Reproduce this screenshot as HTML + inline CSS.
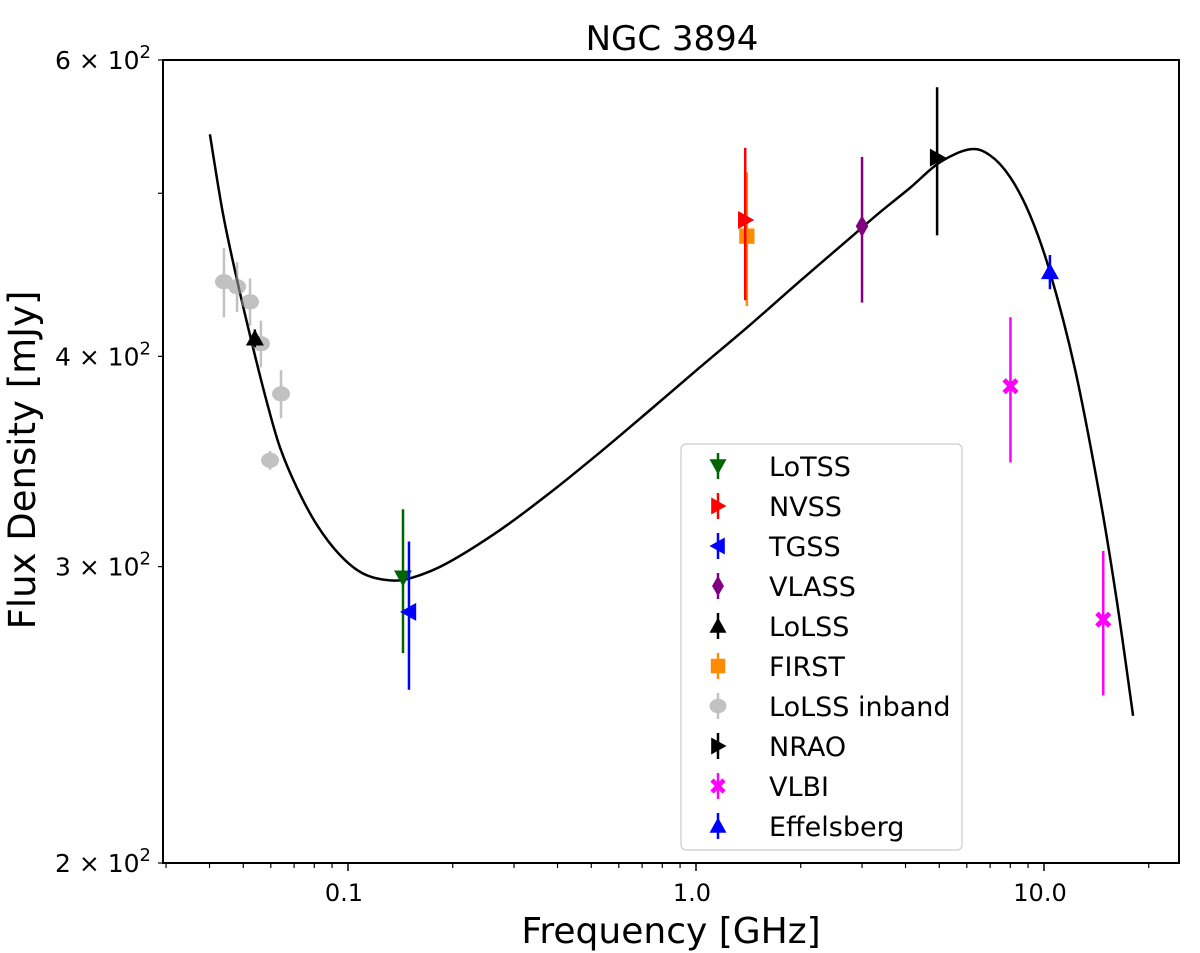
<!DOCTYPE html>
<html><head><meta charset="utf-8"><style>
body{margin:0;background:#fff}
svg{display:block;font-family:"DejaVu Sans","Liberation Sans",sans-serif}
</style></head><body>
<svg id="c" width="1200" height="953" viewBox="0 0 1200 953"></svg>
<script>
const curveFreq=[0.0401,0.0437,0.0480,0.0530,0.0585,0.0638,0.0714,0.0815,0.0948,0.1104,0.1321,0.1537,0.1925,0.2734,0.3806,0.530,0.738,1.027,1.43,1.990,2.770,3.379,4.121,5.02,6.13,7.00,7.99,9.12,10.40,12.28,14.49,16.21,18.03];
const curveFlux=[542,486.5,444,407,375.5,353,334,317.5,304.8,297.2,294.4,295.6,301.4,315.4,331.9,350.8,371.7,394.1,417.6,443.4,470.3,487.2,503.7,521.6,531,526.6,511.2,485.2,449,393,329.5,285.8,244.6];
const inbandFreq=[0.0440,0.0480,0.0523,0.0562,0.0642,0.0597];
const inbandFlux=[443,440,431,407,380,347];
const inbandErr=[21,15,14,13,12.5,4.5];
const series=[
 {name:'LoTSS',color:'#006400',marker:'tri-down',f:[0.1439],v:[295.5],e:[29]},
 {name:'NVSS',color:'#ff0000',marker:'tri-right',f:[1.385],v:[482],e:[50]},
 {name:'TGSS',color:'#0000ff',marker:'tri-left',f:[0.1497],v:[282],e:[28.5]},
 {name:'VLASS',color:'#800080',marker:'diamond',f:[3.00],v:[478],e:[47.5]},
 {name:'LoLSS',color:'#000000',marker:'tri-up',f:[0.0540],v:[410],e:[5]},
 {name:'FIRST',color:'#ff8c00',marker:'square',f:[1.40],v:[471.5],e:[43]},
 {name:'LoLSS inband',color:'#999999',marker:'circle',f:inbandFreq,v:inbandFlux,e:inbandErr,alpha:0.6},
 {name:'NRAO',color:'#000000',marker:'tri-right',f:[4.93],v:[525],e:[53]},
 {name:'VLBI',color:'#ff00ff',marker:'x',f:[8.01,14.8],v:[384,279],e:[38,27.5]},
 {name:'Effelsberg',color:'#0000ff',marker:'tri-up',f:[10.4],v:[449],e:[10.5]}
];
const drawOrder=[6,0,2,3,4,5,1,7,8,9];
const xMajor=[0.1,1,10], xMajorLabels=['0.1','1.0','10.0'];
const xMinor=[0.03,0.04,0.05,0.06,0.07,0.08,0.09,0.2,0.3,0.4,0.5,0.6,0.7,0.8,0.9,2,3,4,5,6,7,8,9,20];
const yTicks=[200,300,400,500,600], yTickMant=['2','3','4','','6'];

const L=163,R=1179,T=60,B=863;
const X=f=>348+348*Math.log10(f/0.1);
const Y=v=>B-Math.log10(v/200)/Math.log10(3)*(B-T);
const NS='http://www.w3.org/2000/svg';
const svg=document.getElementById('c');
function el(tag,attrs,parent){const e=document.createElementNS(NS,tag);for(const k in attrs)e.setAttribute(k,attrs[k]);(parent||svg).appendChild(e);return e;}

let t=el('text',{x:672,y:50,'font-size':34,'text-anchor':'middle'});t.textContent='NGC 3894';


t=el('text',{x:671,y:943,'font-size':36,'text-anchor':'middle'});t.textContent='Frequency [GHz]';


t=el('text',{x:0,y:0,'font-size':37,'text-anchor':'middle',transform:'translate(35,460) rotate(-90)'});t.textContent='Flux Density [mJy]';



xMajor.forEach((f,i)=>{const x=X(f);el('line',{x1:x,x2:x,y1:B,y2:B+8,stroke:'#000','stroke-width':1.5});
 const tt=el('text',{x:x-4,y:B+38,'font-size':24,'text-anchor':'middle'});tt.textContent=xMajorLabels[i];
 
 });
xMinor.forEach(f=>{const x=X(f);el('line',{x1:x,x2:x,y1:B,y2:B+5,stroke:'#000','stroke-width':1.2});});
yTicks.forEach((v,i)=>{const y=Y(v);el('line',{x1:L-5,x2:L,y1:y,y2:y,stroke:'#000','stroke-width':1.2});
 if(yTickMant[i]){const tt=el('text',{x:L-12,y:y+9,'font-size':25,'text-anchor':'end'});
 tt.innerHTML=yTickMant[i]+' × 10<tspan dy="-11" font-size="18">2</tspan>';
 
 }});

const cp=curveFreq.map((f,i)=>[X(f),Y(curveFlux[i])]);
let d='M'+cp[0][0]+','+cp[0][1];
for(let i=0;i<cp.length-1;i++){const p0=cp[Math.max(0,i-1)],p1=cp[i],p2=cp[i+1],p3=cp[Math.min(cp.length-1,i+2)];
 d+=' C'+(p1[0]+(p2[0]-p0[0])/6)+','+(p1[1]+(p2[1]-p0[1])/6)+' '+(p2[0]-(p3[0]-p1[0])/6)+','+(p2[1]-(p3[1]-p1[1])/6)+' '+p2[0]+','+p2[1];}
const cv=el('path',{d:d,fill:'none',stroke:'#000','stroke-width':2.5});



function marker(g,type,x,y,c,s){
 s=s||9;
 if(type==='circle')el('ellipse',{cx:x,cy:y,rx:s,ry:s*0.85,fill:c},g);
 else if(type==='square')el('rect',{x:x-s*0.85,y:y-s*0.85,width:s*1.7,height:s*1.7,fill:c},g);
 else if(type==='diamond')el('polygon',{points:`${x},${y-s*1.2} ${x+s*0.7},${y} ${x},${y+s*1.2} ${x-s*0.7},${y}`,fill:c},g);
 else if(type==='x'){const a=s*0.9,w=s*0.38;el('polygon',{points:`${x-a},${y-a+w} ${x-a+w},${y-a} ${x},${y-w} ${x+a-w},${y-a} ${x+a},${y-a+w} ${x+w},${y} ${x+a},${y+a-w} ${x+a-w},${y+a} ${x},${y+w} ${x-a+w},${y+a} ${x-a},${y+a-w} ${x-w},${y}`,fill:c},g);}
 else{let pts;
  if(type==='tri-up')pts=[[0,-s],[s,s*0.8],[-s,s*0.8]];
  if(type==='tri-down')pts=[[0,s],[s,-s*0.8],[-s,-s*0.8]];
  if(type==='tri-right')pts=[[s,0],[-s*0.8,s],[-s*0.8,-s]];
  if(type==='tri-left')pts=[[-s,0],[s*0.8,s],[s*0.8,-s]];
  el('polygon',{points:pts.map(p=>(x+p[0])+','+(y+p[1])).join(' '),fill:c},g);}
}

drawOrder.forEach(si=>{const s=series[si];
 const g=el('g',{opacity:s.alpha||1});
 
 
 s.f.forEach((f,i)=>{const x=X(f),y=Y(s.v[i]);
  el('line',{x1:x,x2:x,y1:Y(s.v[i]+s.e[i]),y2:Y(s.v[i]-s.e[i]),stroke:s.color,'stroke-width':2.5},g);
  marker(g,s.marker,x,y,s.color);});
});

const fr=el('rect',{x:L,y:T,width:R-L,height:B-T,fill:'none',stroke:'#000','stroke-width':2});



const lg=el('g',{});


el('rect',{x:681,y:444,width:281,height:406,rx:5,fill:'#fff','fill-opacity':0.85,stroke:'#ccc','stroke-width':1.2},lg);
series.forEach((s,i)=>{const y=466+i*40;
 const g=el('g',{opacity:s.alpha||1},lg);
 
 
 el('line',{x1:718,x2:718,y1:y-13,y2:y+13,stroke:s.color,'stroke-width':2.5},g);
 marker(g,s.marker,718,y,s.color,8.5);
 const tx=el('text',{x:769,y:y+10,'font-size':27,fill:'#000'},lg);tx.textContent=s.name;
});
</script>
</body></html>
